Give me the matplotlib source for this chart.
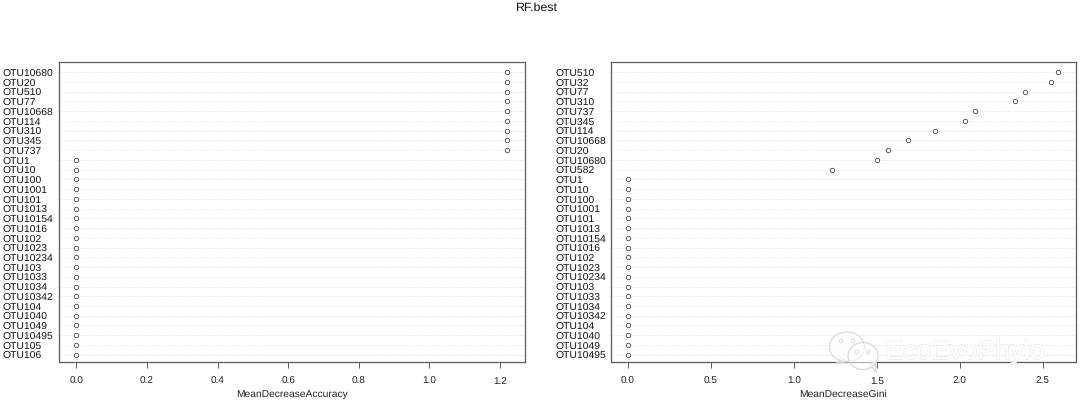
import matplotlib
matplotlib.use("Agg")
import matplotlib.pyplot as plt
from matplotlib.patches import Ellipse, Polygon
from matplotlib.transforms import ScaledTranslation
import matplotlib.patheffects as pe

plt.rcParams['font.family'] = ['Liberation Sans', 'DejaVu Sans']
plt.rcParams['text.hinting'] = 'none'

labels_acc = ["OTU10680","OTU20","OTU510","OTU77","OTU10668","OTU114","OTU310","OTU345","OTU737",
              "OTU1","OTU10","OTU100","OTU1001","OTU101","OTU1013","OTU10154","OTU1016","OTU102",
              "OTU1023","OTU10234","OTU103","OTU1033","OTU1034","OTU10342","OTU104","OTU1040",
              "OTU1049","OTU10495","OTU105","OTU106"]
values_acc = [1.22]*9 + [0.0]*21
labels_gini = ["OTU510","OTU32","OTU77","OTU310","OTU737","OTU345","OTU114","OTU10668","OTU20",
               "OTU10680","OTU582","OTU1","OTU10","OTU100","OTU1001","OTU101","OTU1013","OTU10154",
               "OTU1016","OTU102","OTU1023","OTU10234","OTU103","OTU1033","OTU1034","OTU10342",
               "OTU104","OTU1040","OTU1049","OTU10495"]
values_gini = [2.59,2.55,2.39,2.33,2.09,2.03,1.85,1.69,1.57,1.50,1.23] + [0.0]*19
ticks_acc = [0.0,0.2,0.4,0.6,0.8,1.0,1.2]
ticks_gini = [0.0,0.5,1.0,1.5,2.0,2.5]

W, H = 1080, 404
fig = plt.figure(figsize=(W/100, H/100), dpi=100, facecolor='white')
DARK = '#5a5a5a'

def panel(x0, x1, label_x, labels, values, ticks, xlim, xlabel):
    ax = fig.add_axes([x0/W, 1-361.7/H, (x1-x0)/W, (361.7-62.2)/H])
    n = len(labels)
    ys = list(range(n-1, -1, -1))
    for y in ys:
        ax.axhline(y, color='#d2d2d2', lw=0.55, ls=(0, (1, 2)), zorder=1)
    ax.plot(values, ys, ls='none', marker='o', ms=3.2, mfc='white', mec='#444444', mew=0.6, zorder=3)
    ax.set_xlim(*xlim)
    ax.set_ylim(-0.72, n-1+1.03)
    ax.set_yticks(ys)
    ax.set_yticklabels(labels, ha='left', fontsize=7.45, color='#111111')
    ax.tick_params(axis='y', length=0, pad=(x0-label_x)*0.72)
    shift = ScaledTranslation(0, -1.0/100, fig.dpi_scale_trans)
    for lab in ax.get_yticklabels():
        lab.set_transform(lab.get_transform() + shift)
    ax.set_xticks(ticks)
    ax.set_xticklabels([f"{t:.1f}" for t in ticks], fontsize=7.2, color='#222222')
    ax.tick_params(axis='x', length=4.3, width=0.7, color=DARK, pad=6.2)
    ax.set_xlabel(xlabel, fontsize=7.4, color='#222222', labelpad=2.8)
    for s in ax.spines.values():
        s.set_color(DARK)
        s.set_linewidth(0.9)
    return ax

panel(59, 524.5, 3, labels_acc, values_acc, ticks_acc, (-0.049, 1.269), "MeanDecreaseAccuracy")
panel(611, 1076, 555, labels_gini, values_gini, ticks_gini, (-0.102, 2.70), "MeanDecreaseGini")

fig.text(537/W, 1-8/H, "RF.best", ha='center', va='center', fontsize=8.9, color='#111111')

# faint watermark, figure-level decoration
fig.text(885/W, 1-352/H, "EcoEvoPhylo", ha='left', va='center', fontsize=19.3, color='white',
         path_effects=[pe.withStroke(linewidth=0.6, foreground='#d5d5d5'), pe.Normal()], zorder=10)
wm = dict(transform=None, facecolor=(1, 1, 1, 0.55), edgecolor='#d8d8d8', linewidth=0.9, zorder=10)
fig.add_artist(Polygon([(840, 404-358), (836, 404-364), (848, 404-361)], closed=True, **wm))
fig.add_artist(Ellipse((847, 404-347), 35, 30, **wm))
fig.add_artist(Polygon([(870, 404-365), (876, 404-372), (875, 404-362)], closed=True, **wm))
fig.add_artist(Ellipse((863, 404-356), 30, 27, **wm))
for (cx, cy) in [(841, 341), (853, 341), (857, 352), (868, 352)]:
    fig.add_artist(Ellipse((cx, 404-cy), 3.5, 3.5, transform=None, facecolor='white',
                           edgecolor='#d8d8d8', linewidth=0.7, zorder=11))

fig.savefig("out.png", dpi=100)
